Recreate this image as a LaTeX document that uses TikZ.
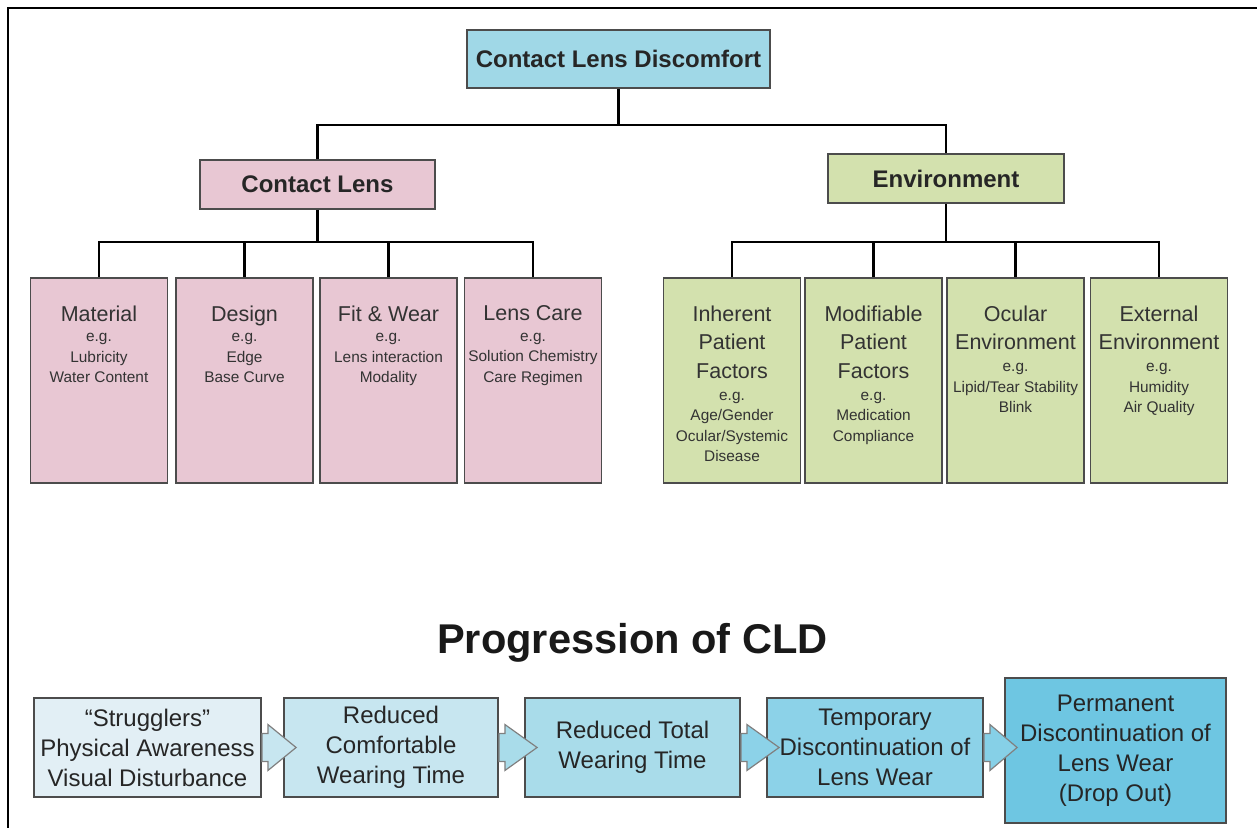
\documentclass[tikz,border=0pt]{standalone}
\usepackage{fontspec}
\setmainfont{Liberation Sans}
\usetikzlibrary{calc}

\definecolor{cldblue}{HTML}{A0D8E7}
\definecolor{lenspink}{HTML}{E8C7D3}
\definecolor{envgreen}{HTML}{D3E1AE}
\definecolor{stageA}{HTML}{E2EFF5}
\definecolor{stageB}{HTML}{C7E6F0}
\definecolor{stageC}{HTML}{A9DCEA}
\definecolor{stageD}{HTML}{8CD2E8}
\definecolor{stageE}{HTML}{6EC6E2}

\newcommand{\ctitle}[1]{{\fontsize{10.75}{10.25}\selectfont #1}}
\newcommand{\stagearrow}[3]{%
  \draw[flow,fill=#3] let \p1=(#1.east), \p2=(#2.west) in
    (\x1,\y1+7pt) -- (\x1+3pt,\y1+7pt) -- (\x1+3pt,\y1+11.5pt) -- (\x2+6.5pt,\y1)
    -- (\x1+3pt,\y1-11.5pt) -- (\x1+3pt,\y1-7pt) -- (\x1,\y1-7pt) -- cycle;}

\begin{document}
\begin{tikzpicture}[x=0.5pt,y=-0.5pt,
  box/.style={draw=black!70,line width=0.9pt,inner sep=0pt,text=black!85},
  head/.style={box,font=\bfseries\fontsize{12}{14}\selectfont,minimum height=24.5pt},
  cause/.style={box,minimum height=102.5pt,minimum width=68.5pt},
  causetext/.style={anchor=north,align=center,inner sep=0pt,text=black!80,font=\fontsize{7.7}{10.25}\selectfont},
  stage/.style={box,minimum height=49.5pt,align=center,font=\fontsize{12}{15}\selectfont},
  tree/.style={line width=1.2pt},
  flow/.style={draw=black!50,line width=0.6pt}]
  \useasboundingbox (0,0) rectangle (1257,828);
  \draw[line width=1pt] (8,828) -- (8,8) -- (1257,8);

  \node[head,fill=cldblue,minimum width=151.5pt,minimum height=29pt] (top) at (618.5,59) {Contact Lens Discomfort};
  \node[head,fill=lenspink,minimum width=117.5pt] (lens) at (317.5,184.5) {Contact Lens};
  \node[head,fill=envgreen,minimum width=118pt] (env) at (946,178.5) {Environment};

  \node[cause,fill=lenspink] (mat) at (99,380.5) {};
  \node[cause,fill=lenspink] (des) at (244.5,380.5) {};
  \node[cause,fill=lenspink] (fit) at (388.5,380.5) {};
  \node[cause,fill=lenspink] (care) at (533,380.5) {};
  \node[cause,fill=envgreen] (inh) at (732,380.5) {};
  \node[cause,fill=envgreen] (mod) at (873.5,380.5) {};
  \node[cause,fill=envgreen] (ocu) at (1015.5,380.5) {};
  \node[cause,fill=envgreen] (ext) at (1159,380.5) {};

  \node[causetext] at ([yshift=-14pt]mat.north) {\ctitle{Material}\\e.g.\\Lubricity\\Water Content};
  \node[causetext] at ([yshift=-14pt]des.north) {\ctitle{Design}\\e.g.\\Edge\\Base Curve};
  \node[causetext] at ([yshift=-14pt]fit.north) {\ctitle{Fit \& Wear}\\e.g.\\Lens interaction\\Modality};
  \node[causetext] at ([yshift=-14pt]care.north) {\ctitle{Lens Care}\\e.g.\\Solution Chemistry\\Care Regimen};
  \node[causetext] at ([yshift=-14pt]inh.north) {\ctitle{Inherent}\\[4pt]\ctitle{Patient}\\[4pt]\ctitle{Factors}\\[0.75pt]e.g.\\Age/Gender\\Ocular/Systemic\\Disease};
  \node[causetext] at ([yshift=-14pt]mod.north) {\ctitle{Modifiable}\\[4pt]\ctitle{Patient}\\[4pt]\ctitle{Factors}\\[0.75pt]e.g.\\Medication\\Compliance};
  \node[causetext] at ([yshift=-14pt]ocu.north) {\ctitle{Ocular}\\[4pt]\ctitle{Environment}\\[0.75pt]e.g.\\Lipid/Tear Stability\\Blink};
  \node[causetext] at ([yshift=-14pt]ext.north) {\ctitle{External}\\[4pt]\ctitle{Environment}\\[0.75pt]e.g.\\Humidity\\Air Quality};

  \draw[tree] (top.south) -- ++(0,36) coordinate (j0);
  \draw[tree] (lens.north) |- (j0) -| (env.north);
  \draw[tree] (lens.south) -- ++(0,32) coordinate (j1);
  \foreach \c in {mat,des,fit,care} \draw[tree] (j1) -| (\c.north);
  \draw[tree] (env.south) -- ++(0,38) coordinate (j2);
  \foreach \c in {inh,mod,ocu,ext} \draw[tree] (j2) -| (\c.north);

  \node[font=\bfseries\fontsize{20.8}{25}\selectfont,text=black!90,anchor=base] (prog) at (632.5,653) {Progression of CLD};

  \node[stage,fill=stageA,minimum width=113.5pt] (s1) at (147.5,747.5) {“Strugglers”\\Physical Awareness\\Visual Disturbance};
  \node[stage,fill=stageB,minimum width=107pt] (s2) at (391,747.5) {Reduced\\Comfortable\\Wearing Time};
  \node[stage,fill=stageC,minimum width=107.5pt] (s3) at (632.5,747.5) {Reduced Total\\Wearing Time};
  \node[stage,fill=stageD,minimum width=108pt] (s4) at (875,747.5) {Temporary\\Discontinuation of\\Lens Wear};
  \node[stage,fill=stageE,minimum width=110.5pt,minimum height=72.5pt] (s5) at (1115.5,750.5) {Permanent\\Discontinuation of\\Lens Wear\\(Drop Out)};

  \stagearrow{s1}{s2}{stageB}
  \stagearrow{s2}{s3}{stageC}
  \stagearrow{s3}{s4}{stageD}
  \stagearrow{s4}{s5}{stageD!80!stageE}
\end{tikzpicture}
\end{document}
